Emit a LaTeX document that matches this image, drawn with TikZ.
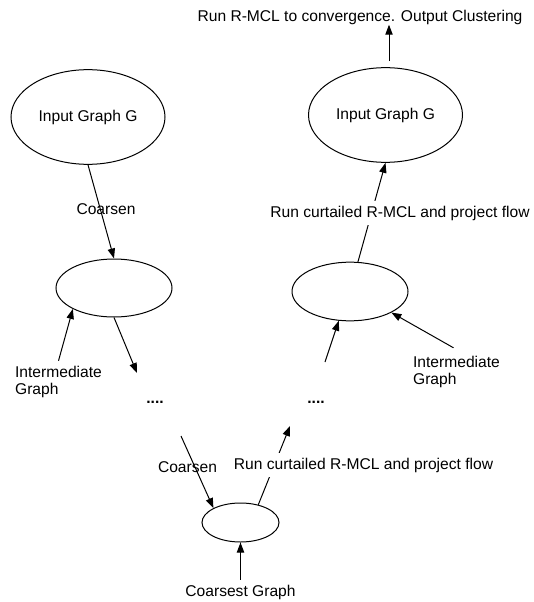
\documentclass[tikz,border=0pt]{standalone}
\usepackage{fontspec}
\setmainfont{Liberation Sans}
\usepackage{tikz}
\usetikzlibrary{shapes.geometric}
\usetikzlibrary{arrows.meta}

\begin{document}
\begin{tikzpicture}[x=0.75pt,y=-0.75pt,line width=0.75pt,
  font=\fontsize{11.7}{12.75}\selectfont,
  graph/.style={draw,ellipse,fill=white,inner sep=0pt},
  arr/.style={-{Triangle[length=7.5pt,width=5.5pt]}},
  lbl/.style={fill=white}]
\useasboundingbox (0,0) rectangle (533,602);
\node [graph,minimum width=115.5pt,minimum height=71pt] (gin) at (88,117) {Input Graph G};
\node [graph,minimum width=115.5pt,minimum height=71pt] (gout) at (385.5,115) {Input Graph G};
\node [graph,minimum width=87pt,minimum height=43.5pt] (gmidl) at (114,288) {};
\node [graph,minimum width=87pt,minimum height=44pt] (gmidr) at (350,291.5) {};
\node [graph,minimum width=57.75pt,minimum height=29.25pt] (gcoarse) at (240.5,522.5) {};

\node (result) at (360,17.5) {Run R-MCL to convergence. Output Clustering};
\node (coarsenA) at (106,209) {Coarsen};
\node (coarsenB) at (187.5,467) {Coarsen};
\node [align=left] (interA) at (58.5,381.5) {Intermediate\\Graph};
\node [align=left] (interB) at (456.5,371.5) {Intermediate\\Graph};
\node [font=\fontsize{11.7}{12.75}\selectfont\bfseries] (dotsA) at (155,402) {....};
\node [font=\fontsize{11.7}{12.75}\selectfont\bfseries] (dotsB) at (316,402) {....};
\node (coarsest) at (240.5,592) {Coarsest Graph};

\coordinate (tailA) at (137,373);
\coordinate (tailB) at (325,362);
\coordinate (tailC) at (181,436);
\coordinate (tailD) at (290,426);

% coarsening side
\draw [arr] (gin.south) -- (gmidl.north);
\draw [arr] (gmidl.south) -- (tailA);
\draw [arr] (interA.north) -- (gmidl.207);
\draw [arr] (tailC) -- (gcoarse.152);
\draw [arr] (coarsest.north) -- (gcoarse.south);
% refinement side
\draw [arr] (gcoarse.45) -- (tailD);
\draw [arr] (tailB) -- (gmidr.249);
\draw [arr] ([shift={(-3,-3)}]interB.north) -- (gmidr.333);
\draw [arr] (gmidr.75) -- (gout.south);
\draw [arr] ([shift={(3.5,-6)}]gout.north) -- ([shift={(29,-5)}]result.south);

\node [lbl] (curtailA) at (400,213) {Run curtailed R-MCL and project flow};
\node [lbl] (curtailB) at (363.5,465) {Run curtailed R-MCL and project flow};
\end{tikzpicture}
\end{document}
